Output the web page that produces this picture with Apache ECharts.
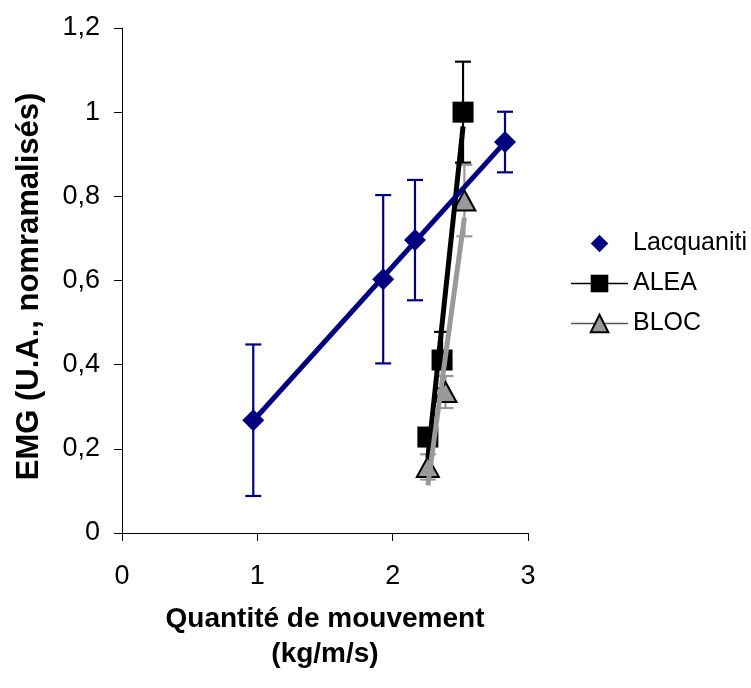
<!DOCTYPE html>
<html>
<head>
<meta charset="utf-8">
<script src="https://cdn.jsdelivr.net/npm/echarts@6/dist/echarts.min.js"></script>
<style>html,body{margin:0;padding:0;background:#fff;}#c{width:751px;height:688px;}</style>
</head>
<body>
<div id="c"></div>
<script>
// ---- data ----
var lacqX = [0.97, 1.93, 2.165, 2.83];
var lacqY = [0.268, 0.603, 0.696, 0.929];
var lacqErr = [0.18, 0.2, 0.143, 0.072];

var aleaX = [2.26, 2.365, 2.52];
var aleaY = [0.228, 0.411, 1.0];
var aleaErr = [0.02, 0.067, 0.12];

var blocX = [2.26, 2.39, 2.53];
var blocY = [0.157, 0.335, 0.79];
var blocErr = [0.03, 0.038, 0.085];

var xTicks = [0, 1, 2, 3];
var yTicks = [0, 0.2, 0.4, 0.6, 0.8, 1, 1.2];

var FONT = 'Liberation Sans';

function pairs(xs, ys) { return xs.map(function (x, i) { return [x, ys[i]]; }); }
function triples(xs, ys, es) { return xs.map(function (x, i) { return [x, ys[i], es[i]]; }); }
// linear least-squares trendline spanning the data's x-range (as the spreadsheet did)
function trend(xs, ys) {
  var n = xs.length, mx = 0, my = 0;
  for (var i = 0; i < n; i++) { mx += xs[i]; my += ys[i]; }
  mx /= n; my /= n;
  var sxy = 0, sxx = 0;
  for (i = 0; i < n; i++) { sxy += (xs[i] - mx) * (ys[i] - my); sxx += (xs[i] - mx) * (xs[i] - mx); }
  var b = sxy / sxx, a = my - b * mx;
  var x0 = Math.min.apply(null, xs), x1 = Math.max.apply(null, xs);
  return [[x0, a + b * x0], [x1, a + b * x1]];
}

function errSeries(name, xs, ys, es, color, z) {
  return {
    type: 'custom', name: name, z: z, silent: true,
    data: triples(xs, ys, es),
    renderItem: function (params, api) {
      var x = api.value(0), y = api.value(1), e = api.value(2);
      var top = api.coord([x, y + e]), bot = api.coord([x, y - e]);
      var hw = 8;
      var st = { stroke: color, lineWidth: 2.2 };
      return {
        type: 'group', children: [
          { type: 'line', shape: { x1: top[0], y1: top[1], x2: bot[0], y2: bot[1] }, style: st },
          { type: 'line', shape: { x1: top[0] - hw, y1: top[1], x2: top[0] + hw, y2: top[1] }, style: st },
          { type: 'line', shape: { x1: bot[0] - hw, y1: bot[1], x2: bot[0] + hw, y2: bot[1] }, style: st }
        ]
      };
    }
  };
}

var chart = echarts.init(document.getElementById('c'), null, { renderer: 'canvas' });
chart.setOption({
  animation: false,
  backgroundColor: '#fff',
  grid: { left: 122, right: 223, top: 28, bottom: 155, containLabel: false },
  xAxis: {
    type: 'value', min: xTicks[0], max: xTicks[xTicks.length - 1], interval: 1,
    axisLine: { onZero: false, lineStyle: { color: '#000', width: 1 } },
    axisTick: { show: true, inside: false, length: 8, lineStyle: { color: '#000' } },
    splitLine: { show: false },
    axisLabel: { margin: 30, fontSize: 27, color: '#000', fontFamily: FONT },
    name: 'Quantité de mouvement\n(kg/m/s)',
    nameLocation: 'middle', nameGap: 69,
    nameTextStyle: { fontSize: 28, fontWeight: 'bold', color: '#000', fontFamily: FONT, lineHeight: 35 }
  },
  yAxis: {
    type: 'value', min: yTicks[0], max: yTicks[yTicks.length - 1], interval: 0.2,
    axisLine: { show: true, onZero: false, lineStyle: { color: '#000', width: 1 } },
    axisTick: { show: true, inside: false, length: 8, lineStyle: { color: '#000' } },
    splitLine: { show: false },
    axisLabel: {
      margin: 22, fontSize: 27, color: '#000', fontFamily: FONT,
      formatter: function (v) { return String(parseFloat(v.toFixed(1))).replace('.', ','); }
    },
    name: 'EMG (U.A., nomramalisés)',
    nameLocation: 'middle', nameGap: 77,
    nameTextStyle: { fontSize: 31, fontWeight: 'bold', color: '#000', fontFamily: FONT, padding: [0, 12, 0, 0] }
  },
  legend: {
    orient: 'vertical', left: 570, top: 231, padding: 0,
    itemWidth: 57, itemHeight: 22, itemGap: 15,
    textStyle: { fontSize: 25, color: '#000', fontFamily: FONT },
    data: [
      { name: 'Lacquaniti', lineStyle: { opacity: 0 } },
      { name: 'ALEA', lineStyle: { color: '#000', width: 1.5, opacity: 1 } },
      { name: 'BLOC', lineStyle: { color: '#555', width: 1.5, opacity: 1 } }
    ],
    selectedMode: false
  },
  series: [
    errSeries('errLacq', lacqX, lacqY, lacqErr, '#000080', 1),
    errSeries('errAlea', aleaX, aleaY, aleaErr, '#000000', 1),
    errSeries('errBloc', blocX, blocY, blocErr, '#999999', 1),
    {
      type: 'line', name: 'Lacquaniti', z: 2, data: pairs(lacqX, lacqY),
      symbol: 'diamond', symbolSize: 22,
      itemStyle: { color: '#000080' },
      lineStyle: { opacity: 0 }
    },
    {
      type: 'line', name: 'ALEA', z: 2, data: pairs(aleaX, aleaY),
      symbol: 'rect', symbolSize: 21,
      itemStyle: { color: '#000000' },
      lineStyle: { opacity: 0 }
    },
    {
      type: 'line', name: 'BLOC', z: 2, data: pairs(blocX, blocY),
      symbol: 'triangle', symbolSize: [22, 20],
      itemStyle: { color: '#999999', borderColor: '#000', borderWidth: 2 },
      lineStyle: { opacity: 0 }
    },
    {
      type: 'line', name: 'trendAlea', z: 3, silent: true, data: trend(aleaX, aleaY),
      symbol: 'none', lineStyle: { color: '#000', width: 5 }
    },
    {
      type: 'line', name: 'trendBloc', z: 4, silent: true, data: trend(blocX, blocY),
      symbol: 'none', lineStyle: { color: '#999999', width: 5 }
    },
    {
      type: 'line', name: 'trendLacq', z: 5, silent: true, data: trend(lacqX, lacqY),
      symbol: 'none', lineStyle: { color: '#000080', width: 5 }
    }
  ]
});
</script>
</body>
</html>
